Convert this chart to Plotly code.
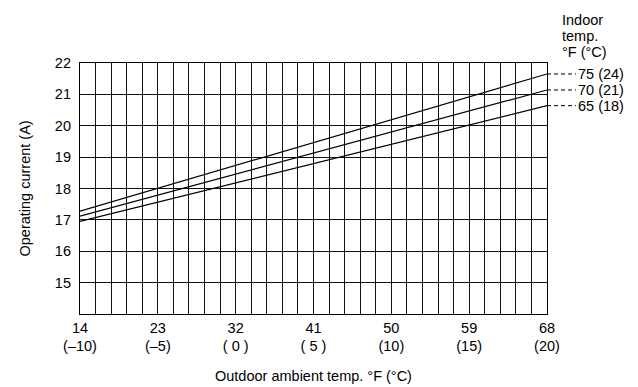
import plotly.graph_objects as go

# Data
outdoor_c = [-10, 20]
current_75 = [17.28, 21.65]
current_70 = [17.12, 21.14]
current_65 = [16.95, 20.64]
series_names = ["75 (24)", "70 (21)", "65 (18)"]
series_values = [current_75, current_70, current_65]

x_tickvals = [-10, -5, 0, 5, 10, 15, 20]
x_ticktext = ["14<br>(–10)", "23<br>(–5)", "32<br>( 0 )", "41<br>( 5 )",
              "50<br>(10)", "59<br>(15)", "68<br>(20)"]
y_tickvals = [15, 16, 17, 18, 19, 20, 21, 22]

FONT = "Liberation Sans, Arial, sans-serif"
FS = 14.5

fig = go.Figure()
for name, vals in zip(series_names, series_values):
    fig.add_trace(go.Scatter(x=outdoor_c, y=vals, mode="lines", name=name,
                             line=dict(color="black", width=1.2),
                             showlegend=False, cliponaxis=False))

W, H = 638, 387
L, R, T, B = 80, 91, 63, 73
pw = W - L - R
ph = H - T - B

fig.update_layout(
    width=W, height=H,
    margin=dict(l=L, r=R, t=T, b=B),
    paper_bgcolor="white", plot_bgcolor="white",
    font=dict(family=FONT, size=FS, color="black"),
    showlegend=False,
)
fig.update_xaxes(
    range=[-10, 20], tickvals=x_tickvals, ticktext=x_ticktext,
    showgrid=True, gridcolor="#111", gridwidth=1,
    minor=dict(dtick=1, showgrid=True, gridcolor="#111", gridwidth=1, tick0=-10),
    showline=True, linecolor="black", linewidth=1.2, mirror=True,
    ticks="", zeroline=False, ticklabelstandoff=0,
    tickfont=dict(family=FONT, size=FS, color="black"),
)
fig.update_yaxes(
    range=[14, 22], tickvals=y_tickvals,
    showgrid=True, gridcolor="#111", gridwidth=1,
    showline=True, linecolor="black", linewidth=1.2, mirror=True,
    ticks="", zeroline=False, ticklabelstandoff=5,
    tickfont=dict(family=FONT, size=FS, color="black"),
)

# Axis titles
fig.add_annotation(text="Operating current (A)", xref="paper", yref="paper",
                   x=(24 - L) / pw, y=0.5, textangle=-90, showarrow=False,
                   xanchor="center", yanchor="middle",
                   font=dict(family=FONT, size=FS, color="black"))
fig.add_annotation(text="Outdoor ambient temp. °F (°C)", xref="paper", yref="paper",
                   x=0.5, y=(T + ph - 376) / ph, showarrow=False,
                   xanchor="center", yanchor="middle",
                   font=dict(family=FONT, size=FS, color="black"))

# Indoor temp header
for txt, yc in zip(["Indoor", "temp.", "°F (°C)"], [20, 36, 52]):
    fig.add_annotation(text=txt, xref="paper", yref="paper",
                       x=(560 - L) / pw, y=(T + ph - yc) / ph, showarrow=False,
                       xanchor="left", yanchor="middle",
                       font=dict(family=FONT, size=FS, color="black"))

# Leaders and labels
for name, vals in zip(series_names, series_values):
    yv = vals[-1]
    fig.add_shape(type="line", xref="paper", yref="y",
                  x0=1.0, x1=(576 - L) / pw, y0=yv, y1=yv,
                  line=dict(color="black", width=1, dash="4px,3px"))
    fig.add_annotation(text=name, xref="paper", yref="y",
                       x=(576 - L) / pw, y=yv, showarrow=False,
                       xanchor="left", yanchor="middle",
                       font=dict(family=FONT, size=FS, color="black"))

fig.write_html("out.html", config={"displayModeBar": False},
               post_script="document.body.style.margin='0';document.body.style.overflow='hidden';")
